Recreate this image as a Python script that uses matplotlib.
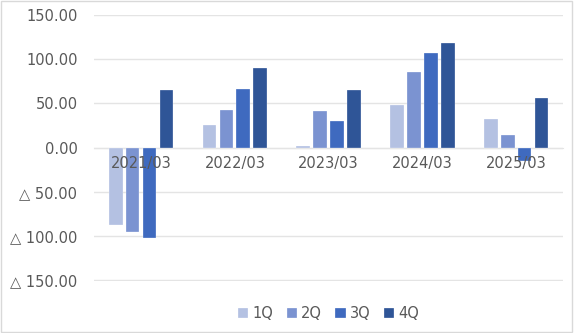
import numpy as np
import matplotlib.pyplot as plt
from matplotlib.patches import Rectangle

# Quarterly results by fiscal year
years = ["2021/03", "2022/03", "2023/03", "2024/03", "2025/03"]
quarters = ["1Q", "2Q", "3Q", "4Q"]
q1 = [-88, 25, 1.5, 48, 32]
q2 = [-96, 42, 41, 86, 14]
q3 = [-102, 66, 30, 107, -15]
q4 = [65, 90, 65, 118, 56]
colors = ["#b4c1e2", "#7b93d1", "#3f6abf", "#2f5597"]

plt.rcParams["font.family"] = ["DejaVu Sans"]

fig = plt.figure(figsize=(5.74, 3.33), dpi=100)
ax = fig.add_axes([0.164, 0.156, 0.817, 0.799])

x = np.arange(len(years))
step = 0.18
width = 0.145
for i, (vals, name) in enumerate(zip([q1, q2, q3, q4], quarters)):
    ax.bar(x + (i - 1.5) * step, vals, width, color=colors[i], label=name,
           edgecolor="white", linewidth=0.2, zorder=3)

ax.set_xlim(-0.5, len(years) - 0.5)
ax.set_ylim(-151, 150)
ax.set_yticks([-150, -100, -50, 0, 50, 100, 150])


def fmt(v):
    return f"△ {abs(v):.2f}" if v < 0 else f"{v:.2f}"


ax.set_yticklabels([fmt(v) for v in ax.get_yticks()])
ax.yaxis.grid(True, color="#e4e4e4", linewidth=1, zorder=0)
ax.tick_params(axis="y", length=0, pad=12, labelsize=10.5, labelcolor="#595959")

# category labels sit on the zero line, above the bars
ax.spines["bottom"].set_position(("data", 0))
ax.spines["bottom"].set_color("#e4e4e4")
for s in ["top", "right", "left"]:
    ax.spines[s].set_visible(False)
ax.set_xticks(x)
ax.set_xticklabels(years)
ax.tick_params(axis="x", length=0, pad=6, labelsize=10.5, labelcolor="#595959")
ax.xaxis.set_zorder(5)

ax.legend(loc="lower center", bbox_to_anchor=(0.5, -0.2), ncol=4, frameon=False,
          fontsize=10.5, handlelength=0.7, handleheight=0.7, handletextpad=0.3,
          columnspacing=0.9, labelcolor="#595959")

fig.patches.append(Rectangle((0.002, 0.003), 0.995, 0.993, transform=fig.transFigure,
                             fill=False, edgecolor="#d9d9d9", linewidth=1))

fig.savefig("out.png", dpi=100)
